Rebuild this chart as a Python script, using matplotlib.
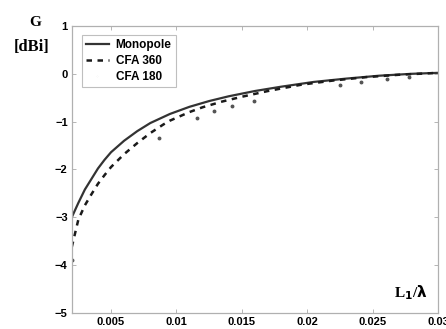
import matplotlib
matplotlib.use("Agg")
import matplotlib.pyplot as plt
from matplotlib.font_manager import FontProperties

# values
x_mono = [0.002, 0.0025, 0.003, 0.0035, 0.004, 0.0045, 0.005, 0.006, 0.007,
          0.008, 0.0095, 0.011, 0.0125, 0.014, 0.016, 0.018, 0.0205, 0.023,
          0.0255, 0.028, 0.03]
g_mono = [-3.0, -2.7, -2.42, -2.2, -1.98, -1.8, -1.64, -1.4, -1.2,
          -1.03, -0.84, -0.69, -0.57, -0.47, -0.36, -0.27, -0.17, -0.1,
          -0.04, 0.0, 0.02]

x_cfa360 = [0.002, 0.0025, 0.003, 0.0035, 0.004, 0.0045, 0.005, 0.006, 0.007,
            0.008, 0.009, 0.0095, 0.011, 0.012, 0.0135, 0.015, 0.017, 0.0195,
            0.022, 0.0245, 0.027, 0.03]
g_cfa360 = [-3.62, -3.05, -2.75, -2.52, -2.3, -2.12, -1.95, -1.68, -1.45,
            -1.24, -1.06, -0.98, -0.8, -0.7, -0.58, -0.48, -0.36, -0.23,
            -0.14, -0.07, -0.02, 0.02]

x_cfa180 = [0.002, 0.00864, 0.01159, 0.01288, 0.01424, 0.01591, 0.0225,
            0.0241, 0.0261, 0.0278]
g_cfa180 = [-3.9, -1.34, -0.93, -0.78, -0.68, -0.57, -0.24, -0.18, -0.11,
            -0.07]

xticks = [0.005, 0.01, 0.015, 0.02, 0.025, 0.03]
xtick_labels = ["0.005", "0.01", "0.015", "0.02", "0.025", "0.03"]
yticks = [-5, -4, -3, -2, -1, 0, 1]

fig = plt.figure(figsize=(4.46, 3.29), dpi=100)
ax = fig.add_axes([0.161, 0.049, 0.821, 0.872])

ax.plot(x_mono, g_mono, color="#333333", lw=1.6, label="Monopole")
ax.plot(x_cfa360, g_cfa360, color="#1a1a1a", lw=1.8, ls=(0, (2.2, 2.2)),
        label="CFA 360")
ax.plot(x_cfa180, g_cfa180, ls="none", marker="o", ms=1.8, color="#555555",
        label="CFA 180")

ax.set_xlim(0.002, 0.03)
ax.set_ylim(-5, 1)
ax.set_xticks(xticks)
ax.set_xticklabels(xtick_labels)
ax.set_yticks(yticks)

tick_font = {"family": "Liberation Sans", "weight": "bold", "size": 8}
for lab in ax.get_xticklabels() + ax.get_yticklabels():
    lab.set_fontproperties(FontProperties(**tick_font))

ax.tick_params(direction="in", length=3, width=0.6, color="#aaaaaa",
               top=True, right=True, pad=3)
for s in ax.spines.values():
    s.set_color("#b0b0b0")
    s.set_linewidth(0.9)

leg_font = {"family": "Liberation Sans", "weight": "bold", "size": 8.5}
leg = ax.legend(loc="upper left", bbox_to_anchor=(0.012, 0.99),
                prop=leg_font, frameon=True, fancybox=False,
                handlelength=1.9, handletextpad=0.6, borderpad=0.35,
                labelspacing=0.35, markerscale=0.01)
leg.get_frame().set_edgecolor("#b0b0b0")
leg.get_frame().set_linewidth(0.8)

fig.text(0.078, 0.933, "G", ha="center", va="center",
         family="Liberation Serif", weight="bold", size=11)
fig.text(0.072, 0.857, "[dBi]", ha="center", va="center",
         family="Liberation Serif", weight="bold", size=12)
ax.text(0.972, 0.07, r"L$_\mathbf{1}$/$\mathbf{\lambda}$", transform=ax.transAxes,
        ha="right", va="center", family="Liberation Serif", weight="bold",
        size=11)

fig.savefig("out.png", dpi=100)
